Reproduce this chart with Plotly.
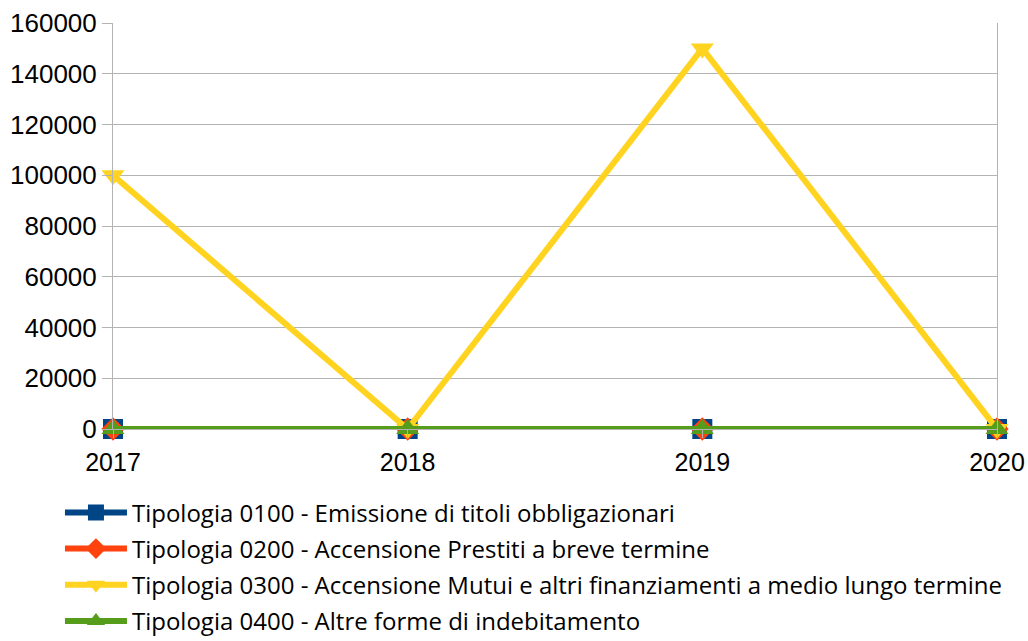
import plotly.graph_objects as go

years = ["2017", "2018", "2019", "2020"]
names = [
    "Tipologia 0100 - Emissione di titoli obbligazionari",
    "Tipologia 0200 - Accensione Prestiti a breve termine",
    "Tipologia 0300 - Accensione Mutui e altri finanziamenti a medio lungo termine",
    "Tipologia 0400 - Altre forme di indebitamento",
]
v0100 = [0, 0, 0, 0]
v0200 = [0, 0, 0, 0]
v0300 = [100000, 0, 150000, 0]
v0400 = [0, 0, 0, 0]
series = [v0100, v0200, v0300, v0400]
colors = ["#004586", "#ff420e", "#ffd320", "#579d1c"]
symbols = ["square", "diamond", "triangle-down", "triangle-up"]
msizes = [20, 18, 20, 20]
y_ticks = [0, 20000, 40000, 60000, 80000, 100000, 120000, 140000, 160000]

fig = go.Figure()
for i, (n, v) in enumerate(zip(names, series)):
    fig.add_trace(go.Scatter(
        x=years, y=v, name=n, mode="lines+markers",
        legendgroup=str(i),
        line=dict(color=colors[i], width=6),
        marker=dict(symbol=symbols[i], size=msizes[i], color=colors[i]),
        cliponaxis=False,
    ))

fig.update_layout(
    width=1028, height=641,
    margin=dict(l=113, r=31, t=23, b=212, autoexpand=False),
    paper_bgcolor="white", plot_bgcolor="white",
    font=dict(family="Liberation Sans, Arial, sans-serif", size=26, color="black"),
    showlegend=True,
    legend=dict(
        orientation="v", x=-0.060, xanchor="left", y=-0.151, yanchor="top",
        font=dict(family="Open Sans, sans-serif", size=24, color="black"),
        tracegroupgap=2, itemwidth=62, bgcolor="rgba(0,0,0,0)",
    ),
)
fig.update_xaxes(
    type="category", range=[0, 3], showgrid=False,
    showline=True, linecolor="#b3b3b3", linewidth=1,
    ticks="outside", ticklen=8, tickcolor="#b3b3b3",
    tickfont=dict(size=25), zeroline=False, ticklabelstandoff=3,
)
fig.update_yaxes(
    range=[0, 160000], tickvals=y_ticks, ticktext=[str(t) for t in y_ticks],
    showgrid=True, gridcolor="#b3b3b3", gridwidth=1,
    showline=True, linecolor="#b3b3b3", linewidth=1, mirror=True,
    ticks="outside", ticklen=10, tickcolor="#b3b3b3",
    tickfont=dict(size=26), zeroline=False,
)
fig.write_html(
    "out.html",
    config={"displayModeBar": False},
    post_script="document.body.style.margin='0';document.body.style.overflow='hidden';",
)
